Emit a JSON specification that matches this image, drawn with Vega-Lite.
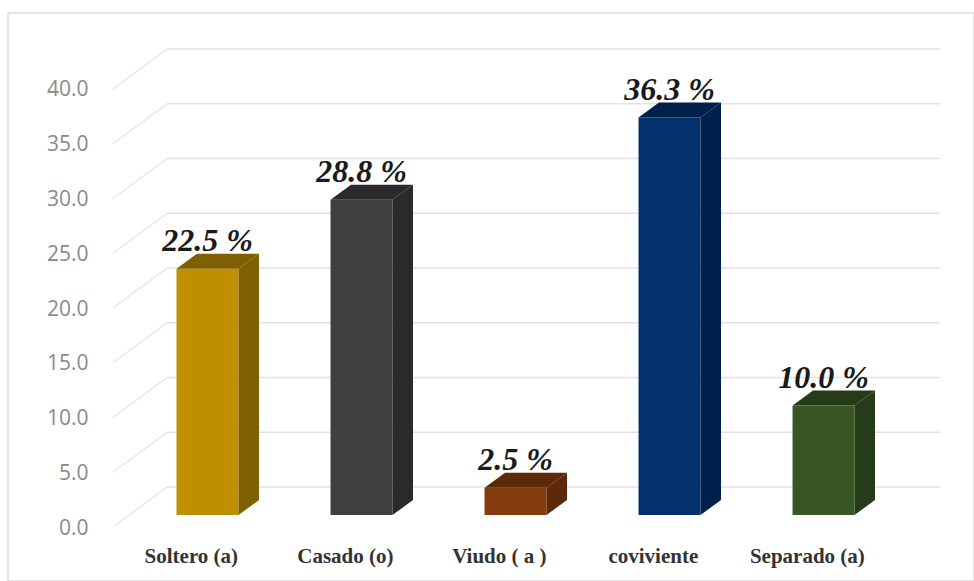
{
  "$schema": "https://vega.github.io/schema/vega-lite/v6.json",
  "width": 966,
  "height": 568,
  "autosize": "none",
  "padding": {"left": 8, "top": 13, "right": 0, "bottom": 0},
  "background": "white",
  "view": {"stroke": "#dcdcdc", "strokeWidth": 1.5},
  "layer": [
    {
      "data": {"values": [{"nivel": 0}, {"nivel": 5}, {"nivel": 10}, {"nivel": 15}, {"nivel": 20}, {"nivel": 25}, {"nivel": 30}, {"nivel": 35}, {"nivel": 40}]},
      "transform": [{"calculate": "datum.nivel + 3.65", "as": "fondo"}],
      "layer": [
        {
          "mark": {"type": "rule", "stroke": "#e8e8e8", "strokeWidth": 1.5},
          "encoding": {
            "x": {"datum": 0.386, "type": "quantitative", "scale": {"domain": [-0.2955, 5.977], "nice": false, "zero": false}, "axis": null},
            "x2": {"datum": 0.737},
            "y": {
              "field": "nivel",
              "type": "quantitative",
              "scale": {"domain": [-4.93, 46.94], "nice": false, "zero": false},
              "axis": {
                "values": [0, 5, 10, 15, 20, 25, 30, 35, 40],
                "format": ".1f",
                "title": null,
                "domain": false,
                "ticks": false,
                "grid": false,
                "offset": -80,
                "labelPadding": 0,
                "labelOffset": 1,
                "labelFont": "Open Sans",
                "labelFontSize": 21,
                "labelColor": "#8a8a8a"
              }
            },
            "y2": {"field": "fondo"}
          }
        },
        {
          "mark": {"type": "rule", "stroke": "#e2e2e2", "strokeWidth": 1.5},
          "encoding": {
            "x": {"datum": 0.737, "type": "quantitative", "scale": {"domain": [-0.2955, 5.977], "nice": false, "zero": false}},
            "x2": {"datum": 5.756},
            "y": {"field": "fondo", "type": "quantitative"}
          }
        }
      ]
    },
    {
      "data": {
        "values": [
          {"estado": "Soltero (a)", "valor": 22.5},
          {"estado": "Casado (o)", "valor": 28.8},
          {"estado": "Viudo ( a )", "valor": 2.5},
          {"estado": "coviviente", "valor": 36.3},
          {"estado": "Separado (a)", "valor": 10.0}
        ]
      },
      "transform": [
        {"window": [{"op": "row_number", "as": "orden"}]},
        {"calculate": "datum.orden - 0.2013", "as": "izq"},
        {"calculate": "datum.orden + 0.2013", "as": "der"},
        {"calculate": "format(datum.valor, '.1f') + ' %'", "as": "etiqueta"}
      ],
      "layer": [
        {
          "mark": {"type": "bar", "yOffset": -12, "y2Offset": -12},
          "encoding": {
            "x": {"field": "izq", "type": "quantitative", "scale": {"domain": [-0.2955, 5.977], "nice": false, "zero": false}},
            "x2": {"field": "der"},
            "y": {"field": "valor", "type": "quantitative"},
            "y2": {"datum": 0},
            "fill": {
              "field": "estado",
              "type": "nominal",
              "legend": null,
              "scale": {
                "domain": ["Soltero (a)", "Casado (o)", "Viudo ( a )", "coviviente", "Separado (a)"],
                "range": ["#bf8f00", "#404040", "#843c0c", "#03316b", "#385723"]
              }
            }
          }
        },
        {
          "transform": [
            {"calculate": "datum.der + 0.133", "as": "derFondo"},
            {"fold": ["der", "derFondo"], "as": ["arista", "xCara"]},
            {"calculate": "datum.arista == 'der' ? 0 : 1.37", "as": "piso"},
            {"calculate": "datum.valor + datum.piso", "as": "techo"}
          ],
          "mark": {"type": "area", "yOffset": -12, "y2Offset": -12, "line": false},
          "encoding": {
            "x": {"field": "xCara", "type": "quantitative", "scale": {"domain": [-0.2955, 5.977], "nice": false, "zero": false}},
            "y": {"field": "techo", "type": "quantitative"},
            "y2": {"field": "piso"},
            "fill": {
              "field": "estado",
              "type": "nominal",
              "legend": null,
              "scale": {
                "domain": ["Soltero (a)", "Casado (o)", "Viudo ( a )", "coviviente", "Separado (a)"],
                "range": ["#7f6000", "#2a2a2a", "#5c2a08", "#00204c", "#263c18"]
              }
            }
          }
        },
        {
          "transform": [
            {"calculate": "datum.valor + 1.37", "as": "valorFondo"},
            {"fold": ["valor", "valorFondo"], "as": ["arista", "yCara"]},
            {"calculate": "datum.izq + (datum.arista == 'valor' ? 0 : 0.133)", "as": "xIni"},
            {"calculate": "datum.der + (datum.arista == 'valor' ? 0 : 0.133)", "as": "xFin"}
          ],
          "mark": {"type": "area", "orient": "horizontal", "yOffset": -12},
          "encoding": {
            "y": {"field": "yCara", "type": "quantitative"},
            "x": {"field": "xIni", "type": "quantitative", "scale": {"domain": [-0.2955, 5.977], "nice": false, "zero": false}},
            "x2": {"field": "xFin"},
            "fill": {
              "field": "estado",
              "type": "nominal",
              "legend": null,
              "scale": {
                "domain": ["Soltero (a)", "Casado (o)", "Viudo ( a )", "coviviente", "Separado (a)"],
                "range": ["#7f6000", "#2a2a2a", "#5c2a08", "#00204c", "#263c18"]
              }
            }
          }
        },
        {
          "mark": {"type": "text", "font": "Liberation Serif", "fontWeight": "bold", "fontStyle": "italic", "fontSize": 32, "dy": -30, "baseline": "alphabetic", "align": "center", "color": "#1a1a1a"},
          "encoding": {
            "x": {"field": "orden", "type": "quantitative", "scale": {"domain": [-0.2955, 5.977], "nice": false, "zero": false}},
            "y": {"field": "valor", "type": "quantitative"},
            "text": {"field": "etiqueta"}
          }
        },
        {
          "transform": [{"calculate": "datum.orden - 0.105", "as": "xNombre"}],
          "mark": {"type": "text", "font": "Liberation Serif", "fontWeight": "bold", "fontSize": 21, "dy": 30, "align": "center", "baseline": "middle", "color": "#333333"},
          "encoding": {
            "x": {"field": "xNombre", "type": "quantitative", "scale": {"domain": [-0.2955, 5.977], "nice": false, "zero": false}},
            "y": {"datum": 0, "type": "quantitative"},
            "text": {"field": "estado"}
          }
        }
      ],
      "resolve": {"scale": {"fill": "independent"}}
    }
  ],
  "resolve": {"scale": {"fill": "independent"}}
}
